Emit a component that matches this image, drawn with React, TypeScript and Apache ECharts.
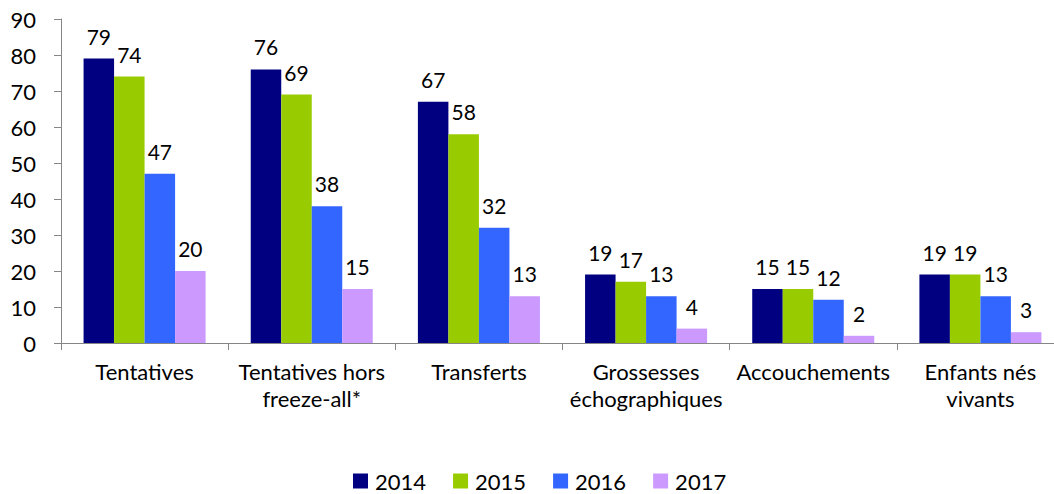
import React, { useEffect, useRef } from "react";
import * as echarts from "echarts";

const categories = [
  "Tentatives",
  "Tentatives hors\nfreeze-all*",
  "Transferts",
  "Grossesses\néchographiques",
  "Accouchements",
  "Enfants nés\nvivants",
];
const years = ["2014", "2015", "2016", "2017"];
const v2014 = [79, 76, 67, 19, 15, 19];
const v2015 = [74, 69, 58, 17, 15, 19];
const v2016 = [47, 38, 32, 13, 12, 13];
const v2017 = [20, 15, 13, 4, 2, 3];
const colors = ["#000080", "#99CC00", "#3366FF", "#CC99FF"];

export default function App() {
  const ref = useRef<HTMLDivElement>(null);
  useEffect(() => {
    document.body.style.margin = "0";
    const chart = echarts.init(ref.current!, undefined, { renderer: "svg" });
    const font = "Lato, 'Open Sans', sans-serif";
    const values = [v2014, v2015, v2016, v2017];
    chart.setOption({
      animation: false,
      textStyle: { fontFamily: font },
      grid: {
        left: 61,
        width: 1003,
        top: 19,
        height: 324,
        containLabel: false,
        outerBoundsMode: "none",
      },
      legend: {
        data: years,
        top: 468,
        left: 353,
        padding: 0,
        itemWidth: 15,
        itemHeight: 15,
        itemGap: 27,
        icon: "rect",
        textStyle: {
          fontSize: 22,
          lineHeight: 26,
          color: "#000",
          fontFamily: font,
          padding: [0, 0, 0, 2],
        },
      },
      xAxis: {
        type: "category",
        data: categories,
        axisLine: { lineStyle: { color: "#868686", width: 1 } },
        axisTick: { show: true, length: 7, lineStyle: { color: "#868686" } },
        axisLabel: {
          interval: 0,
          fontSize: 22,
          color: "#000",
          margin: 15,
          lineHeight: 27,
          fontFamily: font,
        },
      },
      yAxis: {
        type: "value",
        min: 0,
        max: 90,
        interval: 10,
        splitLine: { show: false },
        axisLine: { show: true, lineStyle: { color: "#868686" } },
        axisTick: { show: true, length: 7, lineStyle: { color: "#868686" } },
        axisLabel: { fontSize: 22, color: "#000", margin: 25, fontFamily: font },
      },
      series: years.map((y, i) => ({
        name: y,
        type: "bar",
        data: values[i],
        barGap: "0%",
        barCategoryGap: "27%",
        itemStyle: { color: colors[i] },
        label: {
          show: true,
          position: "top",
          distance: 12,
          fontSize: 21,
          color: "#000",
          fontFamily: font,
        },
      })),
    });
    return () => chart.dispose();
  }, []);
  return <div ref={ref} style={{ width: 1054, height: 494 }} />;
}
